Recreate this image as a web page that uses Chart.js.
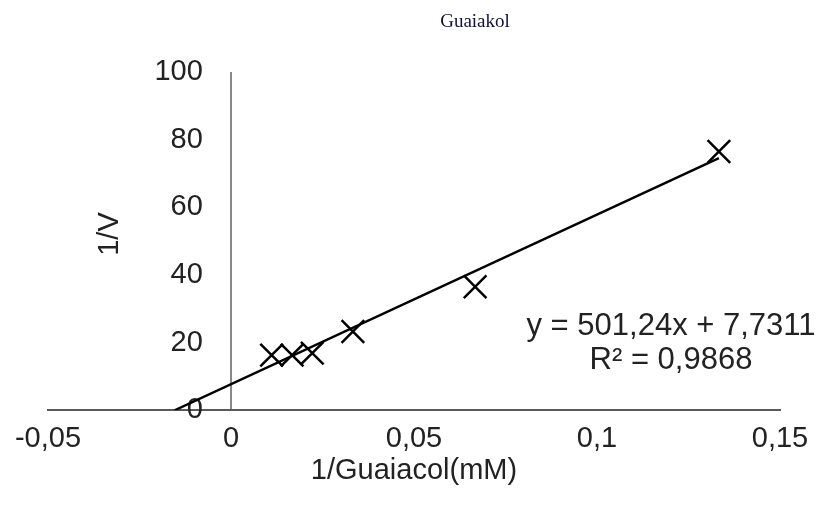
<!DOCTYPE html>
<html>
<head>
<meta charset="utf-8">
<script src="https://cdn.jsdelivr.net/npm/chart.js@4/dist/chart.umd.min.js"></script>
<style>
  html, body { margin: 0; padding: 0; background: #fff; }
</style>
</head>
<body>
<canvas id="chart" width="830" height="520"></canvas>
<script>
// 1/[Guaiacol] (1/mM) and 1/V
const invSubstrate = [0.0111, 0.0167, 0.0222, 0.0333, 0.0667, 0.1333];
const invVelocity = [16.3, 16.3, 16.9, 23.3, 36.5, 76.5];

// linear trendline end points (runs back to the x intercept)
const trendX = [-0.0154, 0.1333];
const trendY = [0, 74.55];

const xTicks = [-0.05, 0, 0.05, 0.1, 0.15];
const yTicks = [0, 20, 40, 60, 80, 100];

const equationLines = ['y = 501,24x + 7,7311', 'R² = 0,9868'];

const tickFont = { family: 'Liberation Sans, Arial, sans-serif', size: 29 };

// comma as decimal separator
const fmt = v => String(+(+v).toFixed(3)).replace('.', ',');

// chart title, equation and vertical axis title (reads bottom-to-top)
const annotations = {
  id: 'annotations',
  afterDraw(chart) {
    const ctx = chart.ctx;
    ctx.save();
    ctx.textAlign = 'center';
    ctx.textBaseline = 'middle';

    ctx.fillStyle = '#10103a';
    ctx.font = '19px "Liberation Serif", "Times New Roman", serif';
    ctx.fillText('Guaiakol', 475, 22);

    ctx.fillStyle = '#222';
    ctx.font = '31px "Liberation Sans", Arial, sans-serif';
    ctx.fillText(equationLines[0], 671, 326);
    ctx.fillText(equationLines[1], 671, 360);

    ctx.font = '29px "Liberation Sans", Arial, sans-serif';
    ctx.translate(110, 234);
    ctx.rotate(-Math.PI / 2);
    ctx.fillText('1/V', 0, 0);
    ctx.restore();
  }
};

new Chart(document.getElementById('chart'), {
  type: 'scatter',
  data: {
    datasets: [
      {
        label: 'data',
        data: invSubstrate.map((x, i) => ({ x: x, y: invVelocity[i] })),
        pointStyle: 'crossRot',
        pointRadius: 16,
        pointHoverRadius: 16,
        borderColor: '#000',
        backgroundColor: '#000',
        pointBorderWidth: 2.5,
        order: 1
      },
      {
        type: 'line',
        label: 'trend',
        data: trendX.map((x, i) => ({ x: x, y: trendY[i] })),
        borderColor: '#000',
        borderWidth: 2.5,
        pointRadius: 0,
        fill: false,
        order: 2
      }
    ]
  },
  options: {
    responsive: false,
    animation: false,
    layout: { padding: { left: 48, right: 50, top: 72, bottom: 41 } },
    plugins: {
      legend: { display: false },
      tooltip: { enabled: false },
      title: { display: false }
    },
    scales: {
      x: {
        type: 'linear',
        position: 'bottom',
        min: -0.05,
        max: 0.15,
        afterBuildTicks: axis => { axis.ticks = xTicks.map(v => ({ value: v })); },
        // only the x = 0 gridline is shown: it is the vertical axis line
        grid: {
          display: true,
          drawTicks: false,
          color: c => (c.tick && c.tick.value === 0 ? '#888' : 'rgba(0,0,0,0)'),
          lineWidth: 2
        },
        border: { display: true, color: '#595959', width: 2 },
        ticks: { color: '#222', font: tickFont, padding: 11, callback: v => fmt(v), maxRotation: 0 },
        title: {
          display: true,
          text: '1/Guaiacol(mM)',
          color: '#222',
          font: { family: tickFont.family, size: 29, lineHeight: 0.86 },
          padding: { top: -9, bottom: -4 }
        }
      },
      y: {
        type: 'linear',
        // labels sit a little left of the x = 0 line
        position: { x: -0.0077 },
        min: 0,
        max: 100,
        afterBuildTicks: axis => { axis.ticks = yTicks.map(v => ({ value: v })); },
        grid: { display: false, drawTicks: false },
        border: { display: false },
        ticks: { color: '#222', font: tickFont, callback: v => fmt(v) }
      }
    }
  },
  plugins: [annotations]
});
</script>
</body>
</html>
